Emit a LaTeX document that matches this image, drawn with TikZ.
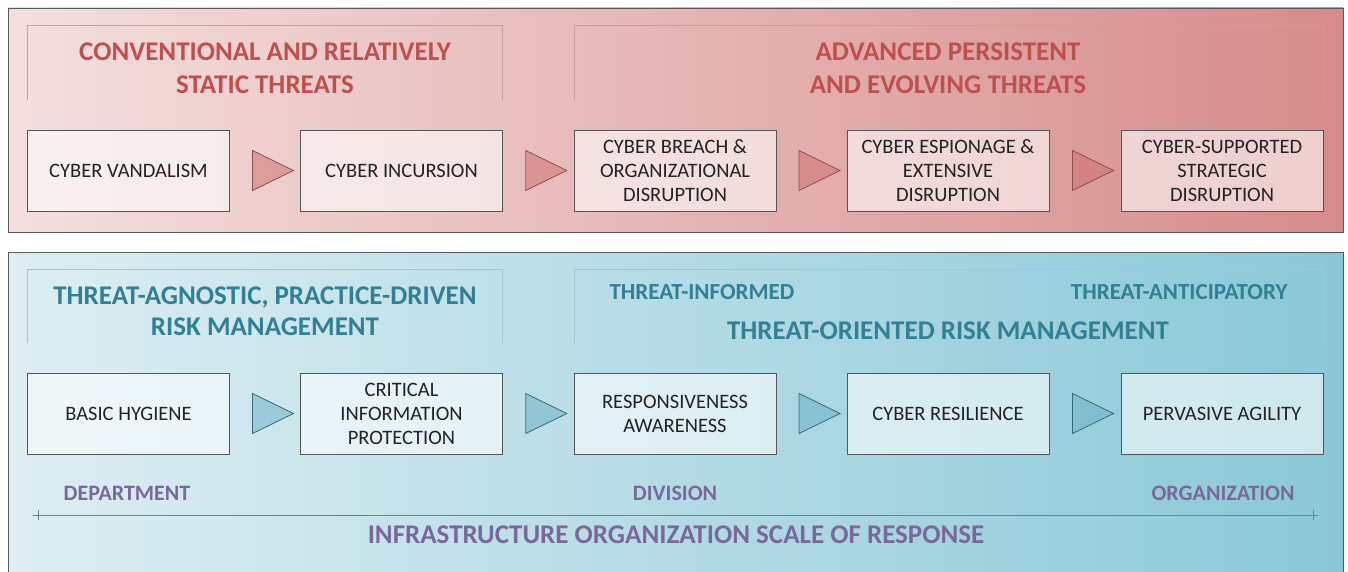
\documentclass[tikz,border=0pt]{standalone}
\usepackage{fontspec}
\setmainfont{Carlito}
\usetikzlibrary{shapes.geometric,calc}

\definecolor{redL}{RGB}{244,223,223}
\definecolor{redR}{RGB}{214,140,138}
\definecolor{redTitle}{RGB}{192,80,77}
\definecolor{redFrame}{RGB}{200,160,160}
\definecolor{redArrow}{RGB}{205,108,106}
\definecolor{redArrowLine}{RGB}{140,80,80}
\definecolor{bluL}{RGB}{222,238,243}
\definecolor{bluR}{RGB}{138,200,215}
\definecolor{bluTitle}{RGB}{49,128,148}
\definecolor{bluFrame}{RGB}{160,200,212}
\definecolor{bluArrow}{RGB}{105,175,198}
\definecolor{bluArrowLine}{RGB}{55,105,122}
\definecolor{scalePurple}{RGB}{122,104,155}
\definecolor{scaleLine}{RGB}{100,135,148}
\definecolor{boxLine}{RGB}{85,85,85}
\definecolor{boxText}{RGB}{35,35,35}
\definecolor{panelLine}{RGB}{90,90,90}

\tikzset{
  panel/.style={draw=panelLine, line width=0.9pt},
  stagebox/.style={draw=boxLine, line width=0.9pt, fill=white, fill opacity=0.58,
    text opacity=1, text=boxText, minimum width=202pt, minimum height=81pt,
    inner sep=0pt, align=center, font=\fontsize{20.5}{24}\selectfont},
  stagearrow/.style={isosceles triangle, isosceles triangle stretches,
    minimum width=40pt, minimum height=41pt, inner sep=0pt, line width=0.8pt},
  redarrow/.style={stagearrow, fill=redArrow, fill opacity=0.5, draw=redArrowLine},
  bluarrow/.style={stagearrow, fill=bluArrow, fill opacity=0.5, draw=bluArrowLine},
  redtitle/.style={text=redTitle, align=center, font=\bfseries\fontsize{27}{33}\selectfont},
  blutitle/.style={text=bluTitle, align=center, font=\bfseries\fontsize{27}{31}\selectfont},
  blusub/.style={text=bluTitle, font=\bfseries\fontsize{23}{27}\selectfont},
  scalelabel/.style={text=scalePurple, font=\bfseries\fontsize{22}{26}\selectfont},
  scaletitle/.style={text=scalePurple, font=\bfseries\fontsize{27}{32}\selectfont},
  groupframe/.style={line width=0.8pt},
}

\begin{document}
\begin{tikzpicture}[x=1pt,y=-1pt]
\useasboundingbox (0,0) rectangle (1348,572);
\fill[white] (0,0) rectangle (1348,572);

% threat panel
\shade[left color=redL, right color=redR] (8,8) rectangle (1343,232);
\draw[panel] (8,8) rectangle (1343,232);
% response panel, running past the lower edge
\shade[left color=bluL, right color=bluR] (8,252) rectangle (1343,580);
\draw[panel] (8,580) -- (8,252) -- (1343,252) -- (1343,580);

% group frames (open at the bottom)
\draw[groupframe, draw=redFrame] (27,100) -- (27,25) -- (502,25) -- (502,100);
\draw[groupframe, draw=redFrame] (574,100) -- (574,25) -- (1323,25) -- (1323,100);
\draw[groupframe, draw=bluFrame] (27,343) -- (27,269) -- (502,269) -- (502,343);
\draw[groupframe, draw=bluFrame] (574,343) -- (574,269) -- (1323,269) -- (1323,343);

% threat group titles
\node[redtitle] (tConv) at (265,68.5) {CONVENTIONAL AND RELATIVELY\\STATIC THREATS};
\node[redtitle] (tAdv) at (948,68.5) {ADVANCED PERSISTENT\\AND EVOLVING THREATS};

% threat stages
\node[stagebox] (t1) at (128.5,170.5) {CYBER VANDALISM};
\node[stagebox] (t2) at (401.5,170.5) {CYBER INCURSION};
\node[stagebox] (t3) at (675,170.5) {CYBER BREACH \&\\ORGANIZATIONAL\\DISRUPTION};
\node[stagebox] (t4) at (948,170.5) {CYBER ESPIONAGE \&\\EXTENSIVE\\DISRUPTION};
\node[stagebox] (t5) at (1222,170.5) {CYBER-SUPPORTED\\STRATEGIC\\DISRUPTION};

\node[redarrow] (ta1) at ($(t1.east)!0.5!(t2.west)$) {};
\node[redarrow] (ta2) at ($(t2.east)!0.5!(t3.west)$) {};
\node[redarrow] (ta3) at ($(t3.east)!0.5!(t4.west)$) {};
\node[redarrow] (ta4) at ($(t4.east)!0.5!(t5.west)$) {};

% response group titles
\node[blutitle] (rAgn) at (265,311.5) {THREAT-AGNOSTIC, PRACTICE-DRIVEN\\RISK MANAGEMENT};
\node[blusub, anchor=west] (rInf) at (606,292) {THREAT-INFORMED};
\node[blusub, anchor=east] (rAnt) at (1291,292) {THREAT-ANTICIPATORY};
\node[blutitle] (rOri) at (948,331) {THREAT-ORIENTED RISK MANAGEMENT};

% response stages
\node[stagebox] (r1) at (128.5,413.5) {BASIC HYGIENE};
\node[stagebox] (r2) at (401.5,413.5) {CRITICAL\\INFORMATION\\PROTECTION};
\node[stagebox] (r3) at (675,413.5) {RESPONSIVENESS\\AWARENESS};
\node[stagebox] (r4) at (948,413.5) {CYBER RESILIENCE};
\node[stagebox] (r5) at (1222,413.5) {PERVASIVE AGILITY};

\node[bluarrow] (ra1) at ($(r1.east)!0.5!(r2.west)$) {};
\node[bluarrow] (ra2) at ($(r2.east)!0.5!(r3.west)$) {};
\node[bluarrow] (ra3) at ($(r3.east)!0.5!(r4.west)$) {};
\node[bluarrow] (ra4) at ($(r4.east)!0.5!(r5.west)$) {};

% scale of response
\node[scalelabel] (sDep) at (127,493) {DEPARTMENT};
\node[scalelabel] (sDiv) at (675,493) {DIVISION};
\node[scalelabel] (sOrg) at (1223,493) {ORGANIZATION};
\coordinate (sL) at (33,515);
\coordinate (sR) at (1318,515);
\draw[scaleLine, line width=1pt] (sL) -- (sR);
\draw[scaleLine, line width=0.7pt] ($(sL)+(5,-5)$) -- ($(sL)+(5,5)$);
\draw[scaleLine, line width=0.7pt] ($(sR)+(-5,-5)$) -- ($(sR)+(-5,5)$);
\node[scaletitle] (sTitle) at (676,535) {INFRASTRUCTURE ORGANIZATION SCALE OF RESPONSE};
\end{tikzpicture}
\end{document}
